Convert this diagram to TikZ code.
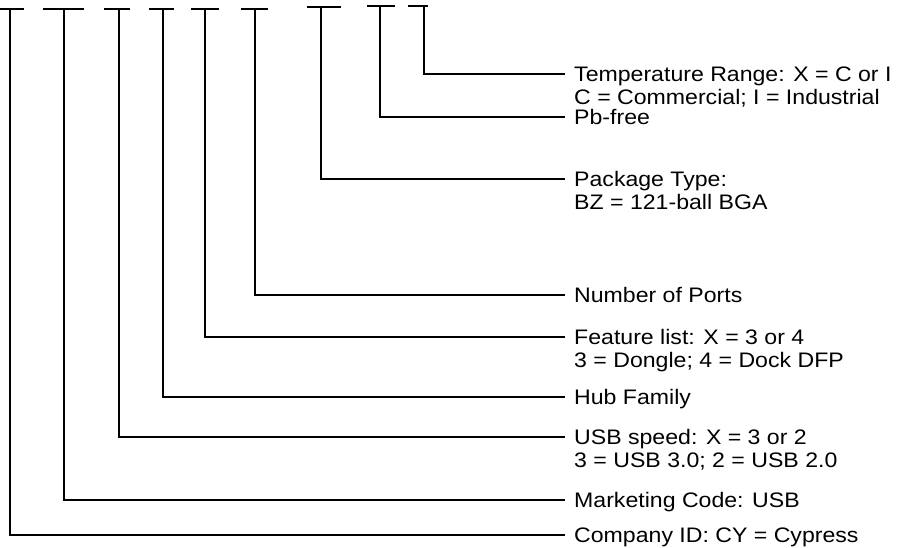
\documentclass[tikz,border=0pt]{standalone}
\usepackage{fontspec}
\setmainfont{Liberation Sans}[FakeStretch=1.1]
\begin{document}
\begin{tikzpicture}[x=1pt,y=-1pt,
  conn/.style={line width=1.5pt},
  bar/.style={line width=1.5pt},
  lab/.style={anchor=base west,inner sep=0pt,align=left,
    font=\fontsize{21}{23.5}\selectfont}]
\useasboundingbox (0,0) rectangle (903,547);
% tick bars
\draw[bar] (0,9) -- (24,9);
\draw[bar] (43,9) -- (84,9);
\draw[bar] (104,9) -- (130,9);
\draw[bar] (149,9) -- (174,9);
\draw[bar] (191,9) -- (219,9);
\draw[bar] (241,9) -- (268,9);
\draw[bar] (307,7) -- (341,7);
\draw[bar] (367,6) -- (395,6);
\draw[bar] (408,6) -- (428,6);
% top points
\coordinate (t1) at (10,9);
\coordinate (t2) at (64,9);
\coordinate (t3) at (119,9);
\coordinate (t4) at (163,9);
\coordinate (t5) at (205,9);
\coordinate (t6) at (255,9);
\coordinate (t7) at (321,7);
\coordinate (t8) at (380,6);
\coordinate (t9) at (424,6);
% line ends
\coordinate (e1) at (565,535);
\coordinate (e2) at (565,500);
\coordinate (e3) at (565,437);
\coordinate (e4) at (565,397);
\coordinate (e5) at (565,337);
\coordinate (e6) at (565,295);
\coordinate (e7) at (565,179);
\coordinate (e8) at (565,117);
\coordinate (e9) at (565,74);
% labels
\node[lab] (l1) at (574,542) {Company ID: CY = Cypress};
\node[lab] (l2) at (574,507) {Marketing Code: USB};
\node[lab] (l3) at (574,467.5) {USB speed: X = 3 or 2\\3 = USB 3.0; 2 = USB 2.0};
\node[lab] (l4) at (574,404) {Hub Family};
\node[lab] (l5) at (574,367.5) {Feature list: X = 3 or 4\\3 = Dongle; 4 = Dock DFP};
\node[lab] (l6) at (574,302) {Number of Ports};
\node[lab] (l7) at (574,209.5) {Package Type:\\BZ = 121-ball BGA};
\node[lab] (l8) at (574,124) {Pb-free};
\node[lab] (l9) at (574,104.5) {Temperature Range: X = C or I\\C = Commercial; I = Industrial};
% connectors
\foreach \i in {1,...,9} \draw[conn] (t\i) |- (e\i);
\end{tikzpicture}
\end{document}
